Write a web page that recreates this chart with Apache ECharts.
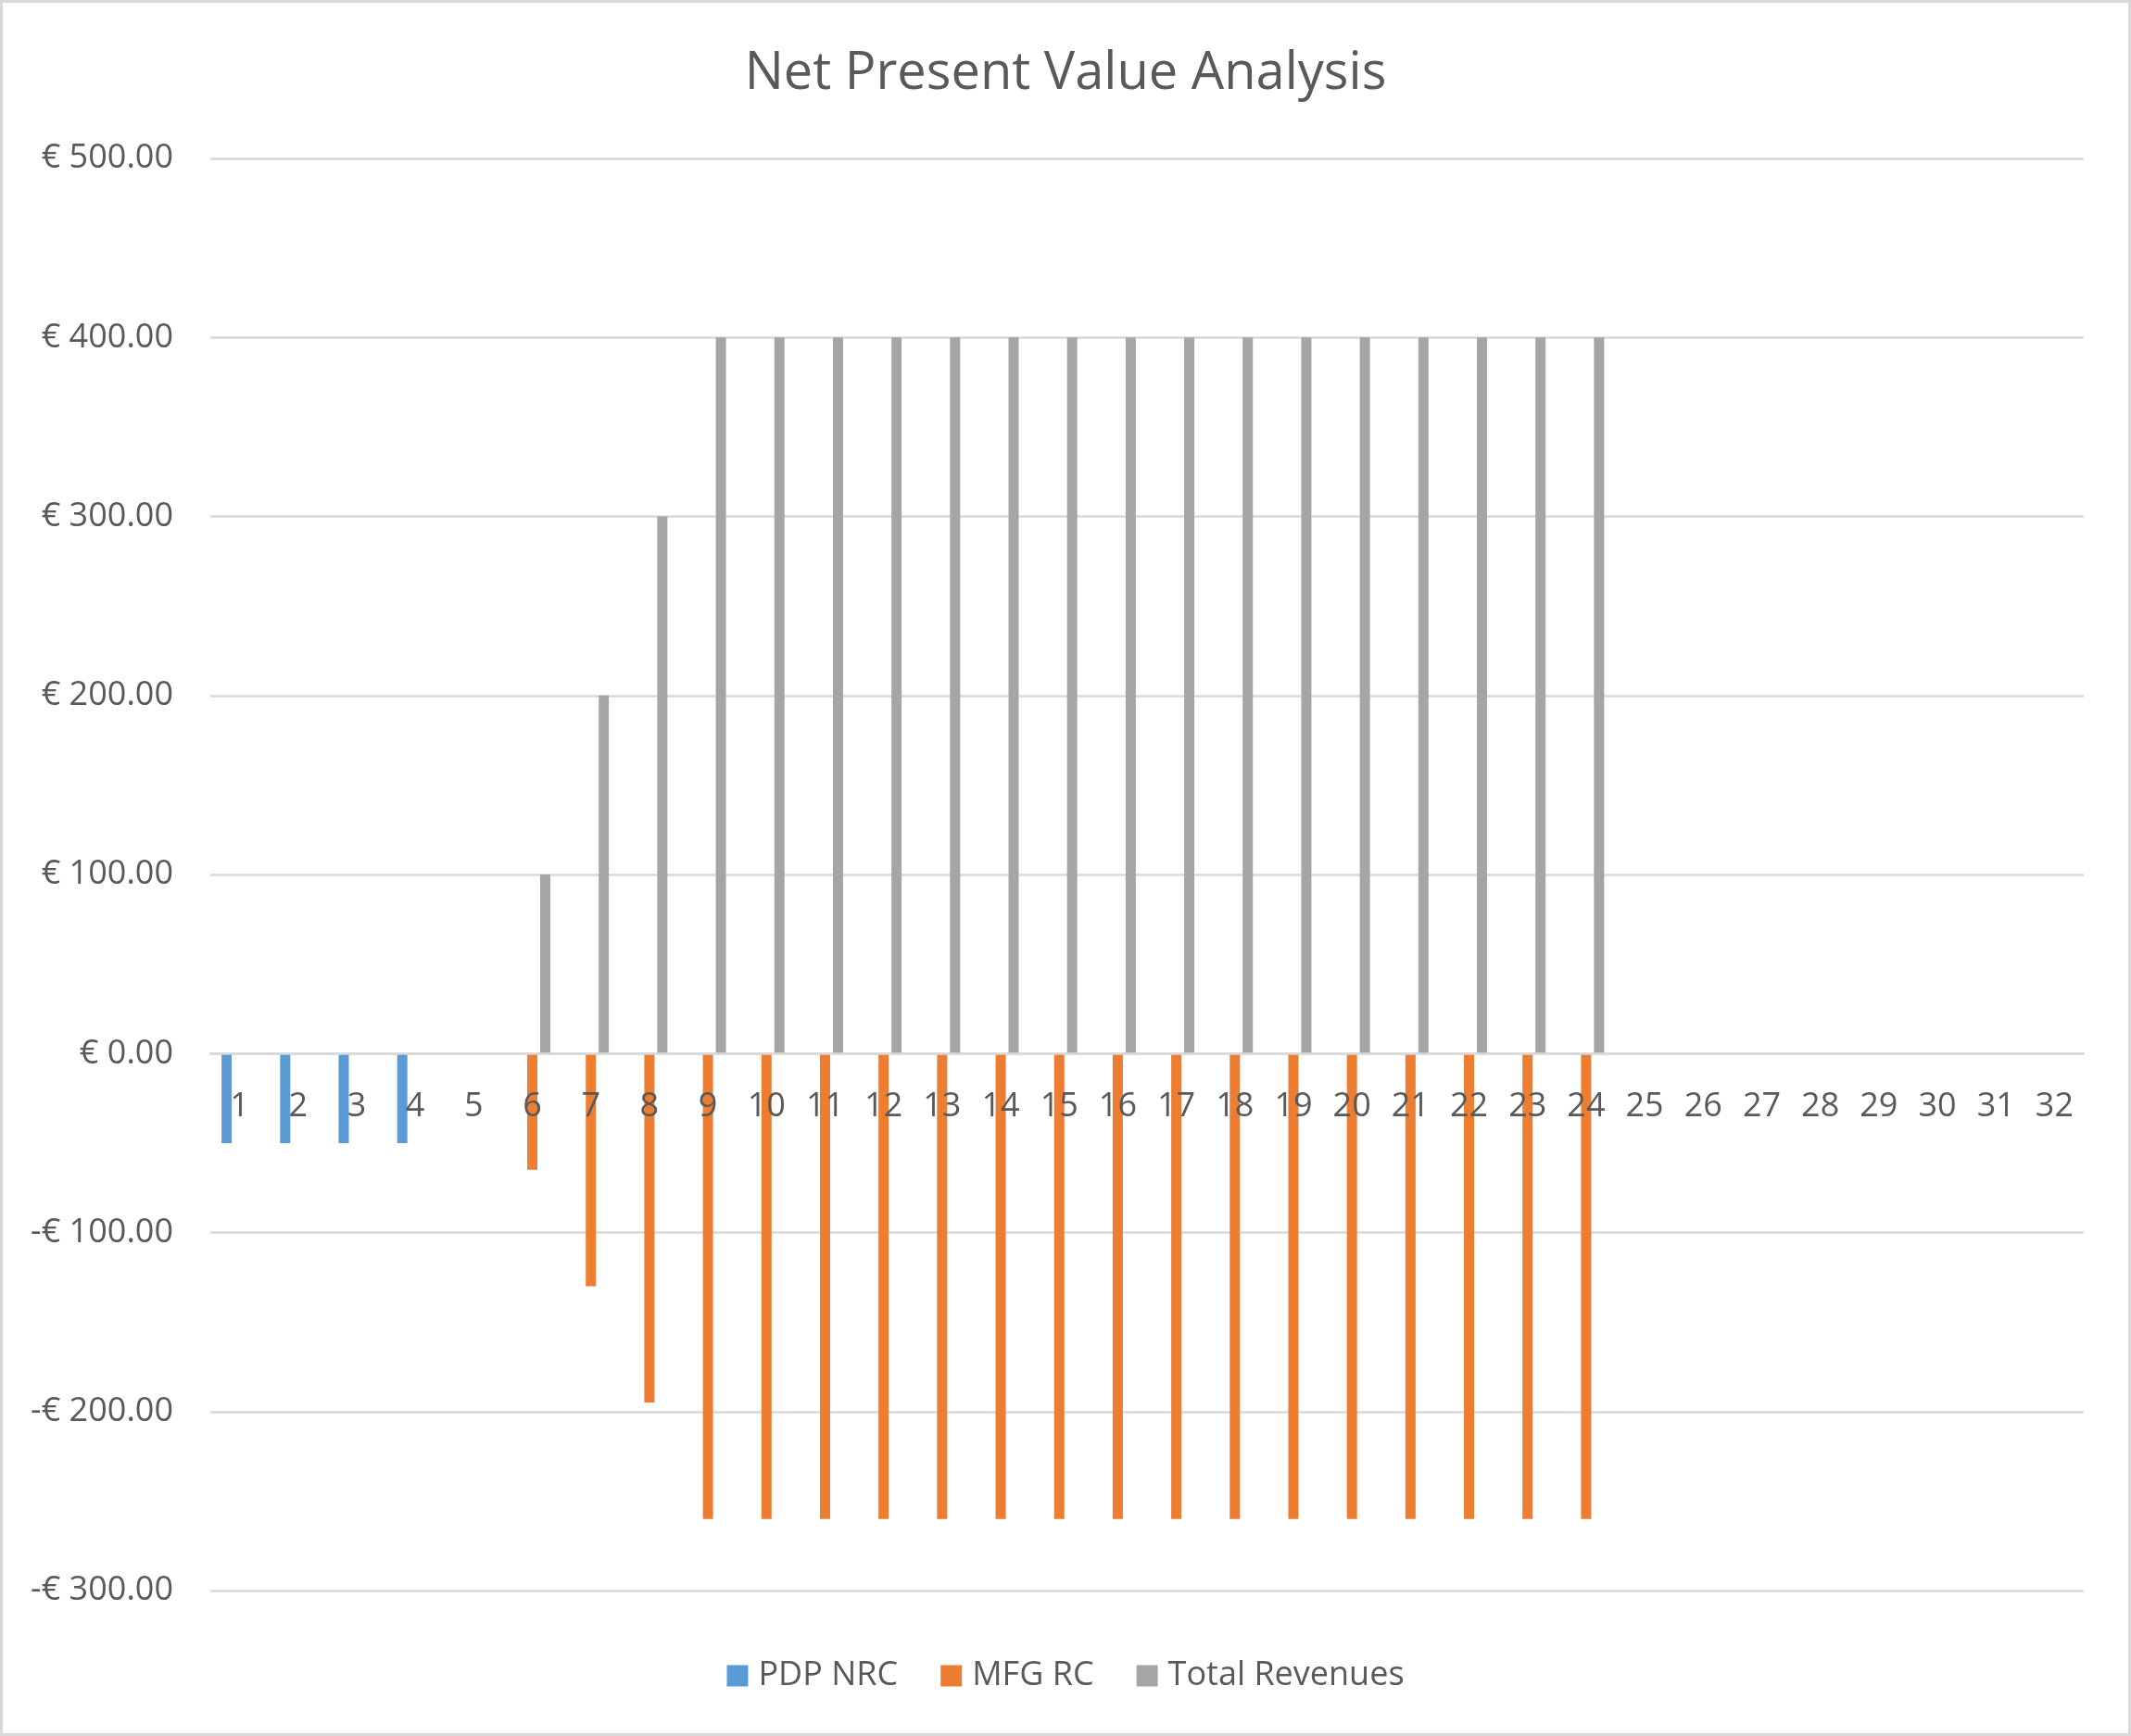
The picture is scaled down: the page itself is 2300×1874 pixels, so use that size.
<!DOCTYPE html>
<html>
<head>
<meta charset="utf-8">
<script src="https://cdn.jsdelivr.net/npm/echarts@6/dist/echarts.min.js"></script>
<style>
html,body{margin:0;padding:0;background:#fff;}
#chart{width:2300px;height:1874px;}
</style>
</head>
<body>
<div id="chart"></div>
<script>
const periods = ['1','2','3','4','5','6','7','8','9','10','11','12','13','14','15','16','17','18','19','20','21','22','23','24','25','26','27','28','29','30','31','32'];
const pdpNRC = [-50,-50,-50,-50,null,null,null,null,null,null,null,null,null,null,null,null,null,null,null,null,null,null,null,null,null,null,null,null,null,null,null,null];
const mfgRC = [null,null,null,null,null,-65,-130,-195,-260,-260,-260,-260,-260,-260,-260,-260,-260,-260,-260,-260,-260,-260,-260,-260,null,null,null,null,null,null,null,null];
const totalRevenues = [null,null,null,null,null,100,200,300,400,400,400,400,400,400,400,400,400,400,400,400,400,400,400,400,null,null,null,null,null,null,null,null];
const seriesNames = ['PDP NRC','MFG RC','Total Revenues'];
const colors = ['#5B9BD5','#ED7D31','#A5A5A5'];
const yMin = -300, yMax = 500, yStep = 100;

const chart = echarts.init(document.getElementById('chart'), null, {renderer:'canvas'});
const font = '"Open Sans", "Noto Sans", sans-serif';
function fmt(v){
  const a = Math.abs(v).toFixed(2);
  return v < 0 ? '-€ ' + a : '€ ' + a;
}
const gridTop = 171, gridBottom = 157, H = 1874;
const plotH = H - gridTop - gridBottom;
const zeroOffset = -plotH * (0 - yMin) / (yMax - yMin);

chart.setOption({
  backgroundColor:'#ffffff',
  animation:false,
  color: colors,
  title:{
    text:'Net Present Value Analysis',
    left:'center',
    top:47,
    textStyle:{fontFamily:font,fontSize:56,fontWeight:'normal',color:'#595959'}
  },
  graphic:[{
    type:'rect',
    shape:{x:1.5,y:1.5,width:2297,height:1871},
    style:{fill:'none',stroke:'#d9d9d9',lineWidth:3},
    silent:true
  }],
  legend:{
    data:seriesNames,
    top:1786,
    left:'center',
    icon:'rect',
    itemWidth:23,
    itemHeight:23,
    itemGap:46,
    textStyle:{fontFamily:font,fontSize:36,color:'#595959',padding:[0,0,0,6]}
  },
  grid:{left:227,right:51,top:gridTop,bottom:gridBottom,containLabel:false},
  xAxis:{
    type:'category',
    data:periods,
    position:'bottom',
    offset:zeroOffset,
    z:5,
    axisLine:{onZero:false,lineStyle:{color:'#d9d9d9',width:2.5}},
    axisTick:{show:false},
    axisLabel:{interval:0,margin:39,fontFamily:font,fontSize:36,color:'#595959'},
    splitLine:{show:false}
  },
  yAxis:{
    type:'value',
    min:yMin,max:yMax,interval:yStep,
    axisLine:{show:false},
    axisTick:{show:false},
    axisLabel:{margin:40,fontFamily:font,fontSize:36,color:'#595959',formatter:fmt},
    splitLine:{lineStyle:{color:'#d9d9d9',width:2.5}}
  },
  series:[
    {name:seriesNames[0],type:'bar',data:pdpNRC,barWidth:11,barGap:'27%'},
    {name:seriesNames[1],type:'bar',data:mfgRC,barWidth:11,barGap:'27%'},
    {name:seriesNames[2],type:'bar',data:totalRevenues,barWidth:11,barGap:'27%'}
  ]
});
</script>
</body>
</html>
